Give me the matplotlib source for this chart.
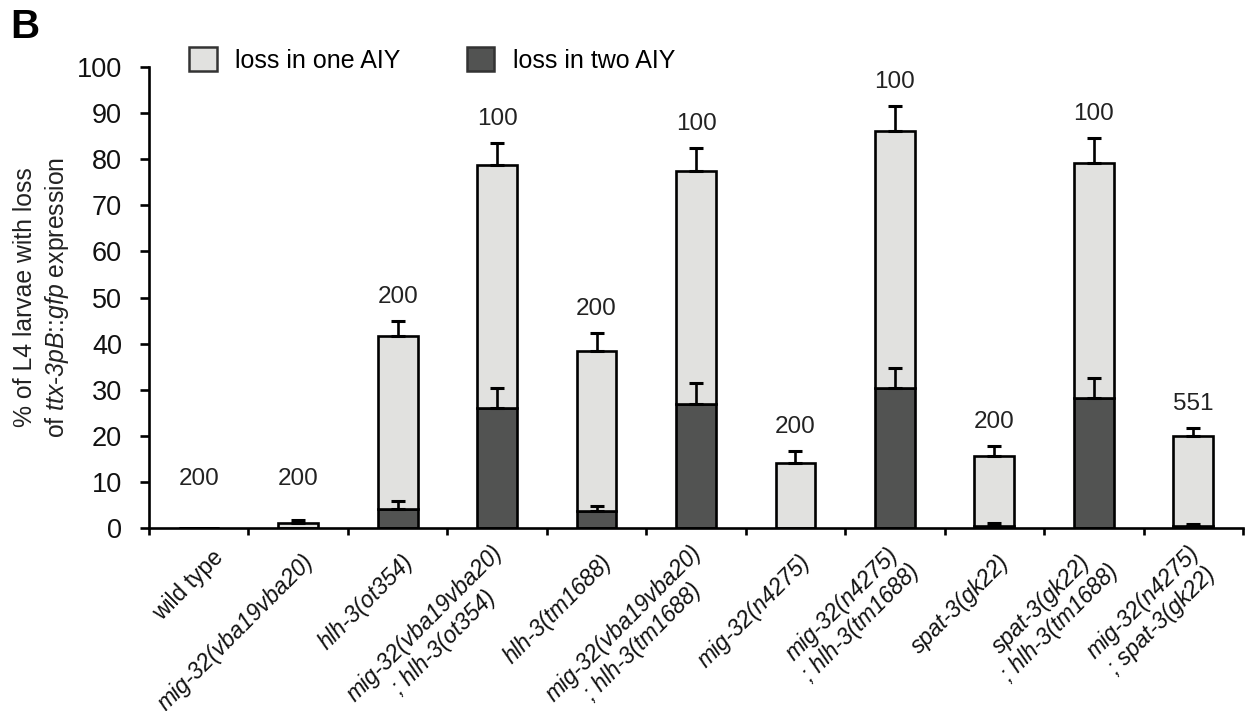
import matplotlib
matplotlib.use("Agg")
import matplotlib.pyplot as plt
from matplotlib.transforms import ScaledTranslation
from matplotlib.patches import Patch
import numpy as np

plt.rcParams["font.family"] = ["Liberation Sans", "DejaVu Sans"]
plt.rcParams["mathtext.fontset"] = "custom"
plt.rcParams["mathtext.rm"] = "Liberation Sans"
plt.rcParams["mathtext.sf"] = "Liberation Sans:italic"
plt.rcParams["mathtext.it"] = "Liberation Sans:italic"

# ---------------- data ----------------
categories = [
    "wild type",
    "mig-32(vba19vba20)",
    "hlh-3(ot354)",
    "mig-32(vba19vba20)\n; hlh-3(ot354)",
    "hlh-3(tm1688)",
    "mig-32(vba19vba20)\n; hlh-3(tm1688)",
    "mig-32(n4275)",
    "mig-32(n4275)\n; hlh-3(tm1688)",
    "spat-3(gk22)",
    "spat-3(gk22)\n; hlh-3(tm1688)",
    "mig-32(n4275)\n; spat-3(gk22)",
]
italic_label = [False] + [True] * 10
loss_two = [0, 0, 4.2, 26.1, 3.75, 27.0, 0, 30.3, 0.5, 28.1, 0.5]
loss_one = [0, 1.15, 37.4, 52.6, 34.75, 50.5, 14.0, 55.9, 15.1, 51.0, 19.5]
err_total = [0, 0.55, 3.4, 4.9, 3.7, 4.9, 2.8, 5.4, 2.2, 5.4, 1.6]
err_two = [0, 0, 1.7, 4.3, 1.1, 4.4, 0, 4.3, 0.5, 4.4, 0.4]
n_animals = [200, 200, 200, 100, 200, 100, 200, 100, 200, 100, 551]
y_ticks = [0, 10, 20, 30, 40, 50, 60, 70, 80, 90, 100]

legend_labels = ["loss in one AIY", "loss in two AIY"]
light = "#e1e1df"
dark = "#525352"

W, H = 1249, 711
fig = plt.figure(figsize=(W / 100, H / 100), dpi=100)
ax = fig.add_axes([149 / W, 1 - 528 / H, (1243 - 149) / W, (528 - 67) / H])

x = np.arange(len(categories))
two = np.array(loss_two)
one = np.array(loss_one)
total = two + one
et = np.array(err_total)
e2 = np.array(err_two)

lw = 1.9
bw = 0.4
ax.bar(x, two, width=bw, color=dark, edgecolor="black", linewidth=lw, zorder=2)
ax.bar(x, one, width=bw, bottom=two, color=light, edgecolor="black", linewidth=lw, zorder=2)

m = et > 0
ax.errorbar(x[m], total[m], yerr=[np.zeros(m.sum()), et[m]], fmt="none",
            ecolor="black", elinewidth=lw, capsize=5, capthick=2.2, zorder=3)
m2 = e2 > 0
ax.errorbar(x[m2], two[m2], yerr=[np.zeros(m2.sum()), e2[m2]], fmt="none",
            ecolor="black", elinewidth=lw, capsize=5, capthick=2.2, zorder=3)

for xi, t, e, n in zip(x, total, et, n_animals):
    ytop = max(t + e, 5.5) + 5.2
    ax.text(xi, ytop, str(n), ha="center", va="center", fontsize=17.5, color="#222222")

ax.set_xlim(-0.5, len(categories) - 0.5)
ax.set_ylim(0, 100)
ax.set_yticks(y_ticks)
ax.tick_params(axis="y", direction="out", length=6.5, width=lw, pad=13, labelsize=19.5,
               labelcolor="#111111")

ax.set_xticks(np.arange(-0.5, len(categories)), minor=False)
ax.set_xticklabels([""] * (len(categories) + 1))
ax.set_xticks(x, minor=True)
ax.set_xticklabels(categories, minor=True)
ax.tick_params(axis="x", which="major", direction="out", length=5, width=lw)
ax.tick_params(axis="x", which="minor", length=0, pad=0, labelsize=16.5,
               labelcolor="#111111")

off_it = ScaledTranslation(8.5 / 72, -22.0 / 72, fig.dpi_scale_trans)
off_up = ScaledTranslation(15.5 / 72, -18.5 / 72, fig.dpi_scale_trans)
for lab, it in zip(ax.get_xticklabels(minor=True), italic_label):
    lab.set_rotation(45)
    lab.set_ha("right")
    lab.set_va("center")
    lab.set_rotation_mode("anchor")
    lab.set_multialignment("center")
    lab.set_fontstyle("italic" if it else "normal")
    lab.set_transform(lab.get_transform() + (off_it if it else off_up))

for s in ["top", "right"]:
    ax.spines[s].set_visible(False)
for s in ["left", "bottom"]:
    ax.spines[s].set_linewidth(lw)

fig.text(42 / W, 1 - 297 / H,
         "% of L4 larvae with loss\nof $\\mathsf{ttx}$-$\\mathsf{3pB}$::$\\mathsf{gfp}$ expression",
         rotation=90, ha="center", va="center", fontsize=17.8, multialignment="center",
         linespacing=1.3, color="#222222")

handles = [Patch(facecolor=light, edgecolor="#333333", linewidth=1.8),
           Patch(facecolor=dark, edgecolor="#333333", linewidth=1.8)]
fig.legend(handles, legend_labels, loc="center left",
           bbox_to_anchor=(189 / W, 1 - 60 / H), bbox_transform=fig.transFigure,
           ncol=2, frameon=False, fontsize=18, handlelength=1.1, handleheight=1.05,
           handletextpad=0.75, columnspacing=2.65, borderpad=0, borderaxespad=0)

fig.text(10 / W, 1 - 8 / H, "B", ha="left", va="top", fontsize=29, fontweight="bold")

fig.savefig("out.png", dpi=100)
